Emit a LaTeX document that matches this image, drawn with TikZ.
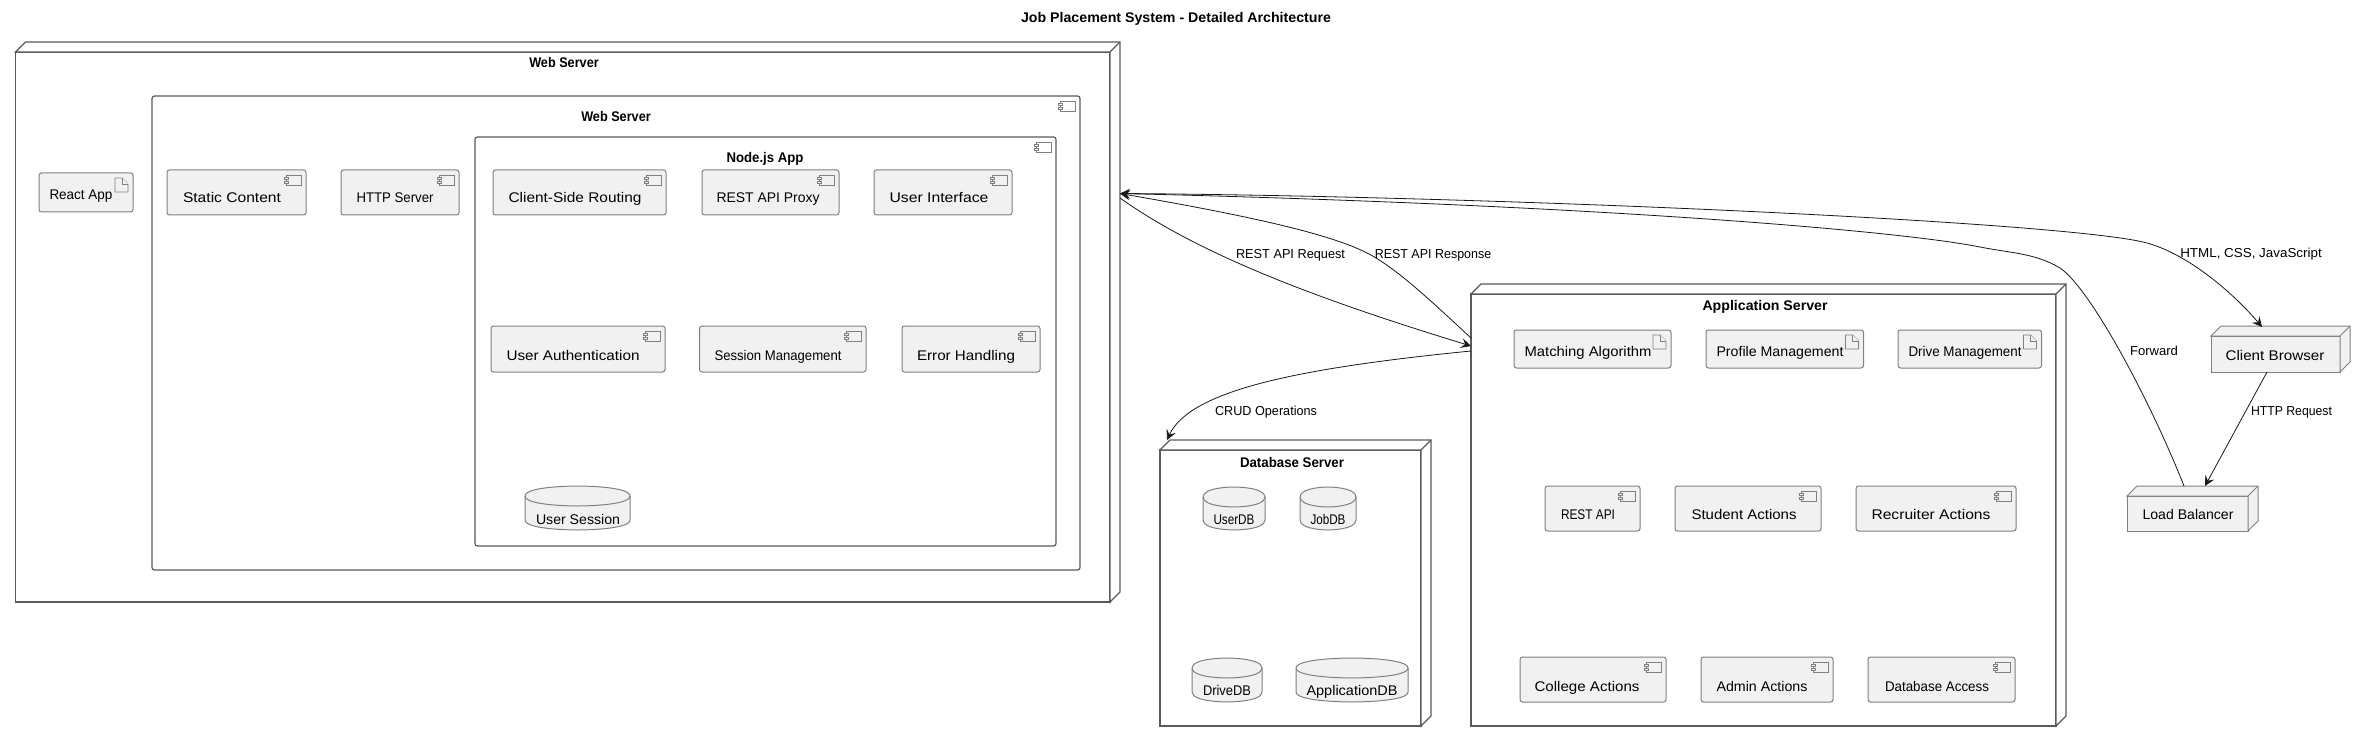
\documentclass[tikz,border=0pt]{standalone}
\usepackage{fontspec}
\usepackage{graphicx}
\setmainfont{Liberation Sans}
\usetikzlibrary{arrows.meta,calc}
\definecolor{ink}{HTML}{181818}
\definecolor{framecol}{HTML}{5A5A5A}
\definecolor{boxcol}{HTML}{808080}
\definecolor{boxfill}{HTML}{F1F1F1}
\tikzset{
  x=1pt,y=-1pt,
  frame/.style={draw=framecol,line width=1.2pt,fill=white,rectangle,inner sep=0pt,outer sep=0pt},
  roundframe/.style={frame,rounded corners=2.5pt},
  comp/.style={draw=boxcol,line width=1pt,fill=boxfill,rectangle,rounded corners=2.5pt,inner sep=0pt,outer sep=0pt},
  solid3d/.style={draw=boxcol,line width=1pt,fill=boxfill,rectangle,inner sep=0pt,outer sep=0pt},
  ghost/.style={rectangle,inner sep=0pt,outer sep=0pt},
  icon/.style={draw=boxcol,line width=0.9pt,fill=boxfill},
  lbl/.style={inner sep=0pt,outer sep=0pt,anchor=base,text=black,font=\fontsize{14}{16}\selectfont},
  edgelbl/.style={lbl,font=\fontsize{13}{15}\selectfont},
  head/.style={lbl,font=\bfseries\fontsize{14}{16}\selectfont},
  conn/.style={draw=ink,line width=0.8pt},
  tipend/.style={-{Stealth[length=10pt,width=10pt,inset=4pt]}},
}
% style, name, x1, y1, x2, y2
\newcommand\bx[6]{%
  \pgfmathsetmacro\cxx{(#3+#5)/2}\pgfmathsetmacro\cyy{(#4+#6)/2}%
  \pgfmathsetmacro\wdd{#5-#3}\pgfmathsetmacro\htt{#6-#4}%
  \node[#1,minimum width=\wdd pt,minimum height=\htt pt] (#2) at (\cxx,\cyy) {};}
% style, name, centre x, centre y, width, text
\newcommand\tx[6]{\pgfmathsetmacro\byy{#4+5}\node[#1] (#2) at (#3,\byy) {\resizebox{#5pt}{\height}{#6}};}
\newcommand\compicon[2][boxfill]{%
  \draw[icon,fill=#1] ($(#2.north east)+(-20,5)$) rectangle +(15,10);
  \draw[icon,fill=#1] ($(#2.north east)+(-22,7)$) rectangle +(4,2);
  \draw[icon,fill=#1] ($(#2.north east)+(-22,11)$) rectangle +(4,2);}
\newcommand\docicon[1]{%
  \draw[icon] ($(#1.north east)+(-18,5)$) -- ++(7,0) -- ++(6,6) -- ++(0,8) -- ++(-13,0) -- cycle;
  \draw[icon] ($(#1.north east)+(-11,5)$) -- ++(0,6) -- ++(6,0);}
\newcommand\threed[2]{%
  \draw[#2] (#1.north west) -- ++(10,-10) -- ($(#1.north east)+(10,-10)$) -- ($(#1.south east)+(10,-10)$) -- (#1.south east) -- (#1.north east) -- cycle;
  \draw[#2] (#1.north east) -- ++(10,-10);}
% name, x1, y1, x2, y2
\newcommand\dbx[5]{%
  \bx{ghost}{#1}{#2}{#3}{#4}{#5}%
  \pgfmathsetmacro\xm{(#2+#4)/2}\pgfmathsetmacro\ya{#3+10}\pgfmathsetmacro\yb{#3+20}\pgfmathsetmacro\yc{#5-10}%
  \draw[icon,line width=1pt] (#2,\ya) .. controls (#2,#3) and (\xm,#3) .. (\xm,#3) .. controls (\xm,#3) and (#4,#3) .. (#4,\ya) -- (#4,\yc) .. controls (#4,#5) and (\xm,#5) .. (\xm,#5) .. controls (\xm,#5) and (#2,#5) .. (#2,\yc) -- cycle;
  \draw[line width=1pt,draw=boxcol] (#2,\ya) .. controls (#2,\yb) and (\xm,\yb) .. (\xm,\yb) .. controls (\xm,\yb) and (#4,\yb) .. (#4,\ya);}
\begin{document}
\begin{tikzpicture}
\useasboundingbox (0,0) rectangle (2366,743);
\tx{head}{title}{1176}{18}{310}{Job Placement System - Detailed Architecture}

% Web Server node
\bx{frame}{ws}{15.5}{52}{1110}{602}
\threed{ws}{draw=framecol,line width=1.2pt,fill=white}
\tx{head}{wsT}{564}{63}{69.5}{Web Server}
\bx{comp}{react}{39}{173}{133}{212}\docicon{react}
\tx{lbl}{reactT}{81}{195}{63}{React App}

% Web Server component
\bx{roundframe}{wc}{152}{96}{1080}{570}
\compicon[white]{wc}
\tx{head}{wcT}{616}{117}{69.5}{Web Server}
\bx{comp}{stat}{167}{170}{306}{215}\compicon{stat}
\tx{lbl}{statT}{232}{198}{98}{Static Content}
\bx{comp}{http}{341}{170}{459}{215}\compicon{http}
\tx{lbl}{httpT}{395}{198}{77}{HTTP Server}

% Node.js App
\bx{roundframe}{na}{475}{137}{1056}{546}
\compicon[white]{na}
\tx{head}{naT}{765}{158}{77}{Node.js App}
\bx{comp}{route}{493}{170}{666}{215}\compicon{route}
\tx{lbl}{routeT}{575}{198}{133}{Client-Side Routing}
\bx{comp}{proxy}{702}{170}{839}{215}\compicon{proxy}
\tx{lbl}{proxyT}{768}{198}{103}{REST API Proxy}
\bx{comp}{ui}{874}{170}{1012}{215}\compicon{ui}
\tx{lbl}{uiT}{939}{198}{99}{User Interface}
\bx{comp}{auth}{491}{326}{665}{372}\compicon{auth}
\tx{lbl}{authT}{573}{355}{133}{User Authentication}
\bx{comp}{sess}{699.5}{326}{866}{372}\compicon{sess}
\tx{lbl}{sessT}{778}{355}{127}{Session Management}
\bx{comp}{err}{902}{326}{1040}{372}\compicon{err}
\tx{lbl}{errT}{966}{355}{98}{Error Handling}
\dbx{usess}{525}{486}{630}{530}
\tx{lbl}{usessT}{578}{519}{84}{User Session}

% Application Server
\bx{frame}{app}{1471}{294}{2056}{726}
\threed{app}{draw=framecol,line width=1.2pt,fill=white}
\tx{head}{appT}{1765}{305}{125}{Application Server}
\bx{comp}{match}{1514}{330}{1671}{368}\docicon{match}
\tx{lbl}{matchT}{1588}{351}{127}{Matching Algorithm}
\bx{comp}{prof}{1706}{330}{1863.5}{368}\docicon{prof}
\tx{lbl}{profT}{1780}{351}{127}{Profile Management}
\bx{comp}{drive}{1898}{330}{2041.5}{368}\docicon{drive}
\tx{lbl}{driveT}{1965}{351}{113}{Drive Management}
\bx{comp}{rest}{1545}{486}{1640}{531}\compicon{rest}
\tx{lbl}{restT}{1588}{514}{54}{REST API}
\bx{comp}{stud}{1675}{486}{1821}{531}\compicon{stud}
\tx{lbl}{studT}{1744}{514}{105}{Student Actions}
\bx{comp}{recr}{1856}{486}{2016}{531}\compicon{recr}
\tx{lbl}{recrT}{1931}{514}{119}{Recruiter Actions}
\bx{comp}{coll}{1520}{657}{1666}{702}\compicon{coll}
\tx{lbl}{collT}{1587}{686}{105}{College Actions}
\bx{comp}{admin}{1701}{657}{1833}{702}\compicon{admin}
\tx{lbl}{adminT}{1762}{686}{91}{Admin Actions}
\bx{comp}{dbacc}{1868}{657}{2015}{702}\compicon{dbacc}
\tx{lbl}{dbaccT}{1937}{686}{104}{Database Access}

% Database Server
\bx{frame}{dbs}{1160}{450}{1421}{726}
\threed{dbs}{draw=framecol,line width=1.2pt,fill=white}
\tx{head}{dbsT}{1292}{462}{104}{Database Server}
\dbx{udb}{1203}{487}{1265}{530}
\tx{lbl}{udbT}{1234}{519}{41}{UserDB}
\dbx{jdb}{1300}{487}{1356}{530}
\tx{lbl}{jdbT}{1328}{519}{35}{JobDB}
\dbx{ddb}{1192}{658}{1262}{702}
\tx{lbl}{ddbT}{1227}{690}{48}{DriveDB}
\dbx{adb}{1296}{658}{1408}{702}
\tx{lbl}{adbT}{1352}{690}{91}{ApplicationDB}

% Client Browser and Load Balancer
\bx{solid3d}{cb}{2211}{336}{2340}{372}
\threed{cb}{draw=boxcol,line width=1pt,fill=boxfill}
\tx{lbl}{cbT}{2275}{355}{99}{Client Browser}
\bx{solid3d}{lb}{2127}{496}{2248}{531}
\threed{lb}{draw=boxcol,line width=1pt,fill=boxfill}
\tx{lbl}{lbT}{2188}{514}{91}{Load Balancer}

% Connector ports
\coordinate (wsP) at (1120,193.5);
\coordinate (wsQ) at (1120,198);
\coordinate (appP) at (1471,346);
\coordinate (appQ) at (1471,338);
\coordinate (appR) at (1471,351);
\coordinate (dbsP) at (1167,440);
\coordinate (cbN) at (2262,327);
\coordinate (cbS) at (2267,372);
\coordinate (lbN) at (2205,486);
\coordinate (lbF) at (2184,486);

\draw[conn,tipend] (wsP) .. controls (1500,196) and (2070,222) .. (2147,243) .. controls (2190,255) and (2235,295) .. (cbN);
\draw[conn,tipend] (lbF) .. controls (2150,400) and (2090,288) .. (2060,268) .. controls (2035,253) and (2010,253) .. (1980,247) .. controls (1900,231) and (1600,205) .. (wsP);
\draw[conn,tipend] (wsQ) .. controls (1200,255) and (1320,300) .. (appP);
\draw[conn,tipend] (appQ) .. controls (1430,300) and (1395,267) .. (1367,253) .. controls (1330,234) and (1250,216) .. (wsP);
\draw[conn,tipend] (appR) .. controls (1300,368) and (1190,390) .. (dbsP);
\draw[conn,tipend] (cbS) -- (lbN);

\tx{edgelbl}{l1}{1290.5}{254}{109}{REST API Request}
\tx{edgelbl}{l2}{1433}{254}{116.5}{REST API Response}
\tx{edgelbl}{l3}{1266}{410}{102}{CRUD Operations}
\tx{edgelbl}{l4}{2251}{253}{141.5}{HTML, CSS, JavaScript}
\tx{edgelbl}{l5}{2154}{350}{48}{Forward}
\tx{edgelbl}{l6}{2291.5}{410}{81}{HTTP Request}
\end{tikzpicture}
\end{document}
